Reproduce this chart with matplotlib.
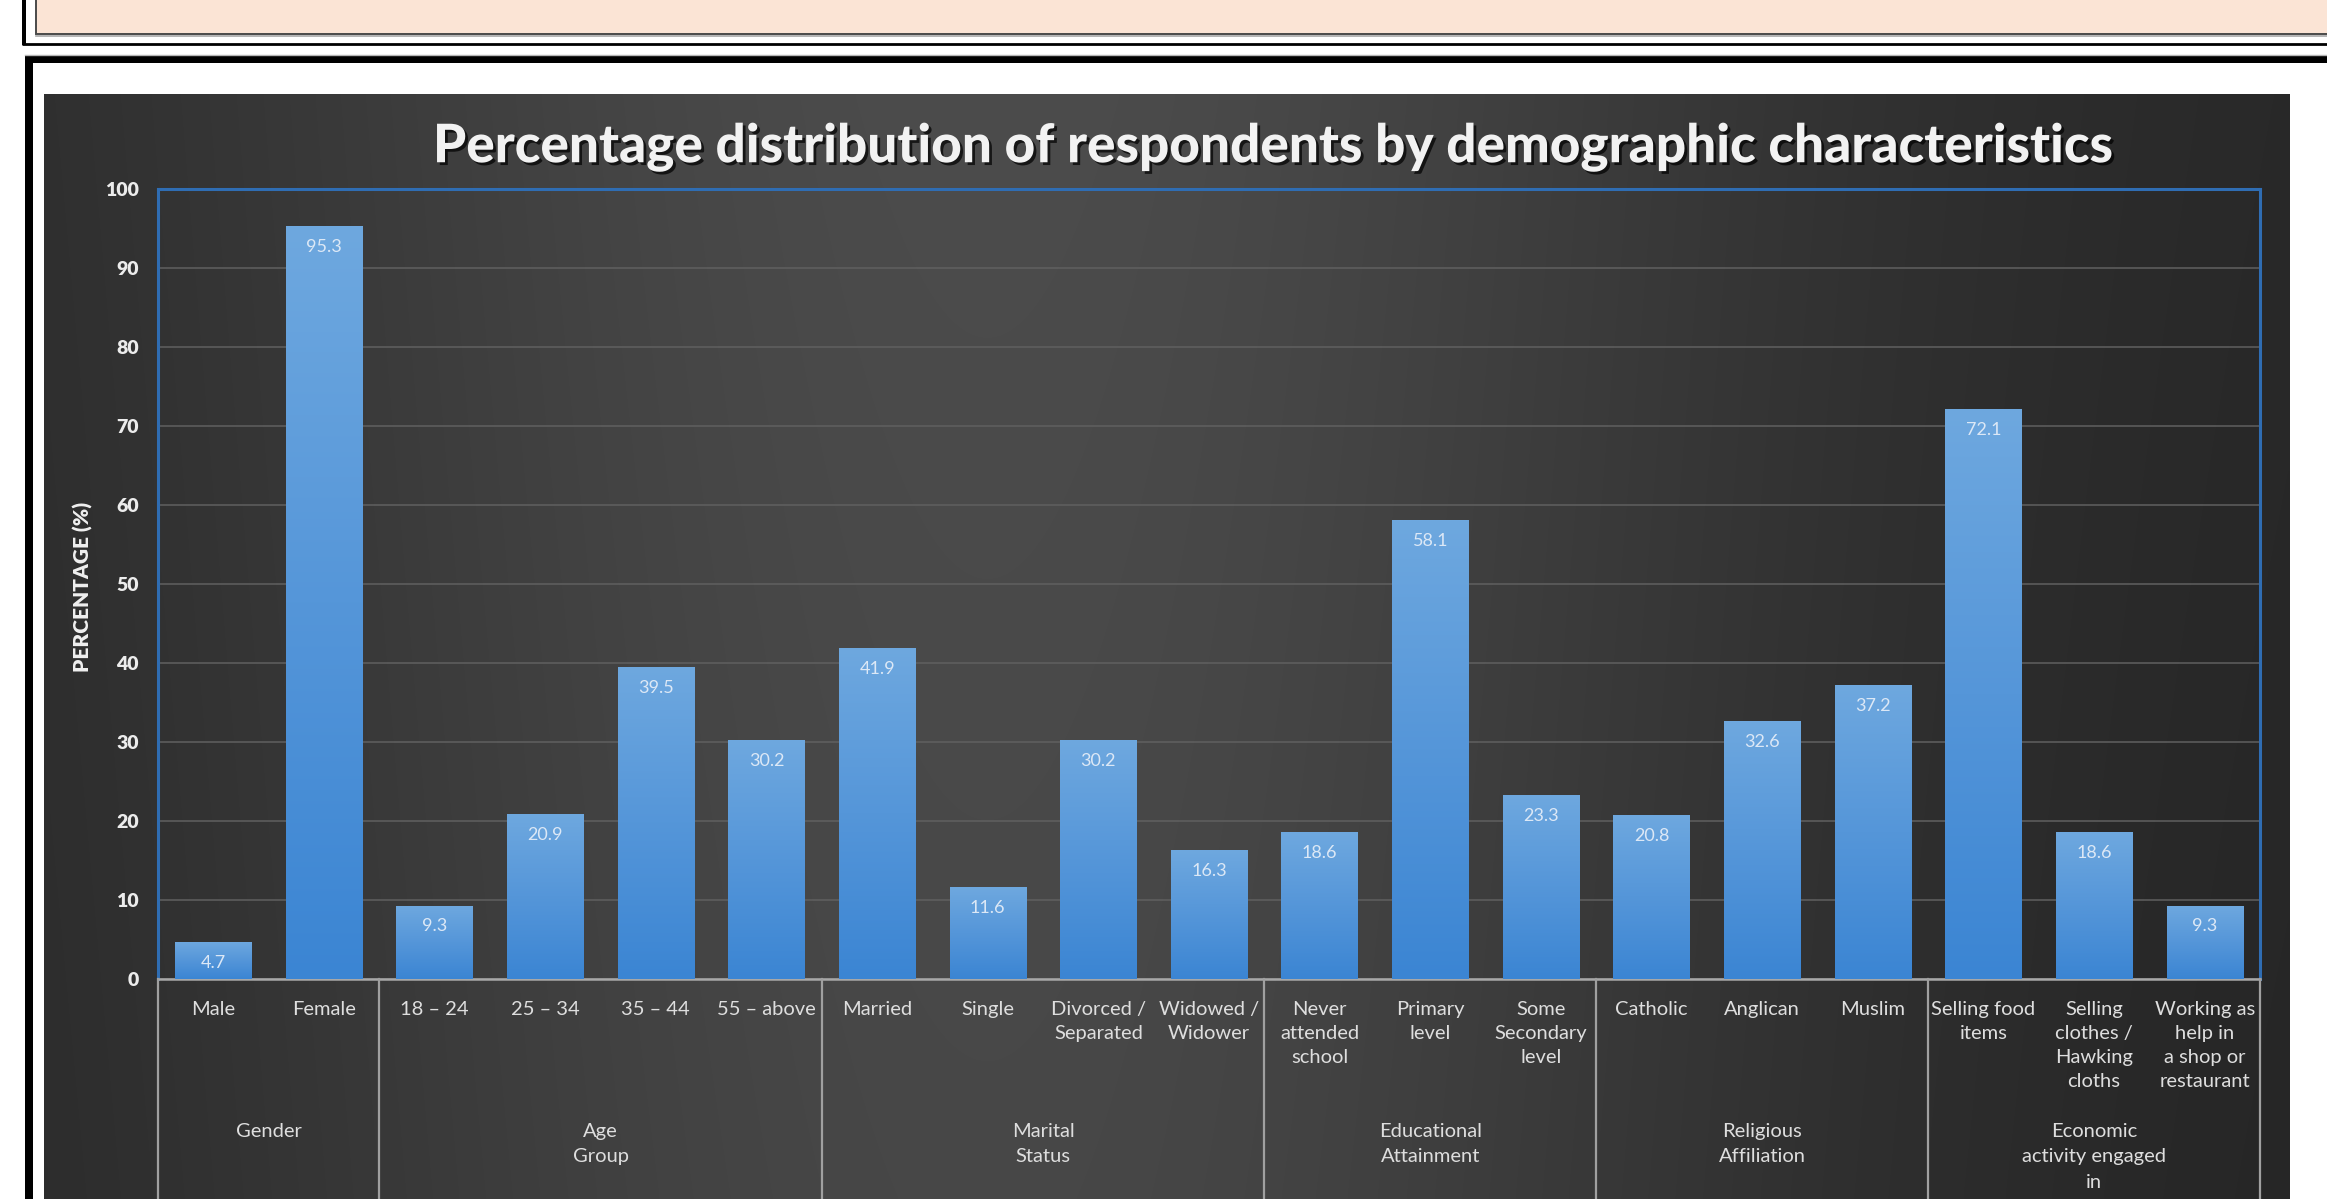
import numpy as np
import matplotlib
matplotlib.use("Agg")
import matplotlib.pyplot as plt
import matplotlib.patheffects as pe
from matplotlib.patches import Rectangle
from matplotlib.colors import LinearSegmentedColormap

# ---------------- data ----------------
categories = ["Male", "Female",
              "18 – 24", "25 – 34", "35 – 44", "55 – above",
              "Married", "Single", "Divorced /\nSeparated", "Widowed /\nWidower",
              "Never\nattended\nschool", "Primary\nlevel", "Some\nSecondary\nlevel",
              "Catholic", "Anglican", "Muslim",
              "Selling food\nitems", "Selling\nclothes /\nHawking\ncloths",
              "Working as\nhelp in\na shop or\nrestaurant"]
values = [4.7, 95.3,
          9.3, 20.9, 39.5, 30.2,
          41.9, 11.6, 30.2, 16.3,
          18.6, 58.1, 23.3,
          20.8, 32.6, 37.2,
          72.1, 18.6, 9.3]
groups = ["Gender", "Age\nGroup", "Marital\nStatus", "Educational\nAttainment",
          "Religious\nAffiliation", "Economic\nactivity engaged\nin"]
group_sizes = [2, 4, 4, 3, 3, 3]
title = "Percentage distribution of respondents by demographic characteristics"
ylabel = "PERCENTAGE (%)"
yticks = list(range(0, 101, 10))

# ---------------- figure ----------------
W, H = 2327, 1199
DPI = 100
fig = plt.figure(figsize=(W / DPI, H / DPI), dpi=DPI, facecolor="white")
plt.rcParams["font.family"] = ["Lato", "DejaVu Sans"]

# decoration layer in pixel coordinates
deco = fig.add_axes([0, 0, 1, 1], zorder=0)
deco.set_xlim(0, W)
deco.set_ylim(H, 0)
deco.axis("off")

# top peach band with frame
deco.add_patch(Rectangle((36, -3), W, 37, facecolor="#fbe4d5", edgecolor="#4a4a4a", lw=1.4))
deco.plot([36, W], [35.5, 35.5], color="#a8a8a8", lw=1.2)
deco.plot([22, W], [44, 44], color="black", lw=2.0, solid_capstyle="butt")
deco.add_patch(Rectangle((22, 0), 4, 45, facecolor="black", edgecolor="none"))
# second frame
deco.plot([25, W], [55, 55], color="#b5b5b5", lw=1.0)
deco.add_patch(Rectangle((25, 56), W, 7, facecolor="black", edgecolor="none"))
deco.add_patch(Rectangle((25, 56), 8, H, facecolor="black", edgecolor="none"))

# chart background gradient
t = np.linspace(0, 1, 600)
f = np.exp(-((t - 0.42) / 0.36) ** 2)
lum = (38 + 38 * f) / 255.0
ty = np.linspace(0, 1, 200)[:, None]
vert = 1.0 - 0.06 * ty
bg = np.clip(lum[None, :] * vert, 0, 1)
bg_rgb = np.dstack([bg, bg, bg])
deco.imshow(bg_rgb, extent=[44, 2290, H, 94], aspect="auto", interpolation="bilinear", zorder=1)
deco.set_xlim(0, W)
deco.set_ylim(H, 0)

# ---------------- main axes ----------------
L, R, T, B = 158, 2260, 189, 979
ax = fig.add_axes([L / W, 1 - B / H, (R - L) / W, (B - T) / H], zorder=2)
ax.set_facecolor("none")

x = np.arange(len(values))
bw = 0.69
bars = ax.bar(x, values, width=bw, color="#5698da", edgecolor="none", zorder=3)

cmap = LinearSegmentedColormap.from_list("barg", ["#6ea8df", "#5596d9", "#3b85d3"])
grad = np.linspace(0, 1, 256)[:, None]
for xi, v, patch in zip(x, values, bars):
    im = ax.imshow(grad, cmap=cmap, extent=[xi - bw / 2, xi + bw / 2, 0, v],
                   origin="upper", aspect="auto", zorder=3.5, interpolation="bilinear")
    im.set_clip_path(patch)
    ax.annotate(f"{v}", xy=(xi, v), xytext=(0, -15), textcoords="offset points",
                ha="center", va="center", fontsize=13, color="#dce8f6", zorder=5)

ax.set_xlim(-0.5, len(values) - 0.5)
ax.set_ylim(0, 100)
ax.set_yticks(yticks)
ax.set_yticklabels([str(v) for v in yticks], fontsize=14, fontweight="heavy", color="#ececec")
ax.tick_params(axis="y", length=0, pad=14)
ax.set_xticks([])
ax.yaxis.grid(True, color="#606060", lw=1.1)
ax.set_axisbelow(True)

for s in ["left", "top", "right"]:
    ax.spines[s].set_color("#2f6db3")
    ax.spines[s].set_linewidth(2.2)
ax.spines["bottom"].set_color("#a8a8a8")
ax.spines["bottom"].set_linewidth(1.8)

trans = ax.get_xaxis_transform()
ph = B - T
# category labels
for xi, lab in zip(x, categories):
    ax.text(xi, -22 / ph, lab, transform=trans, ha="center", va="top",
            multialignment="center", fontsize=14.5, color="#dedede", linespacing=1.5)

# group labels and separators
bounds = np.concatenate([[0], np.cumsum(group_sizes)]) - 0.5
for i, g in enumerate(groups):
    c = (bounds[i] + bounds[i + 1]) / 2
    ax.text(c, -144 / ph, g, transform=trans, ha="center", va="top",
            multialignment="center", fontsize=14.5, color="#dedede", linespacing=1.6)
for bx in bounds:
    ax.plot([bx, bx], [0, -(H - B + 5) / ph], transform=trans, color="#a0a0a0",
            lw=1.6, clip_on=False, zorder=4)

# y label
fig.text(83 / W, 1 - 587 / H, ylabel, rotation=90, ha="center", va="center",
         fontsize=15, fontweight="heavy", color="#f0f0f0")

# title (scaled to the reference width)
tt = fig.text(1273 / W, 1 - 147 / H, title, ha="center", va="center",
              fontsize=30, fontweight="black", color="#f2f2f2",
              path_effects=[pe.withSimplePatchShadow(offset=(2, -2), shadow_rgbFace="black", alpha=0.7)])
renderer = fig.canvas.get_renderer()
wpx = tt.get_window_extent(renderer).width
tt.set_fontsize(30 * 1677 / wpx)

fig.savefig("out.png", dpi=DPI, facecolor="white")
